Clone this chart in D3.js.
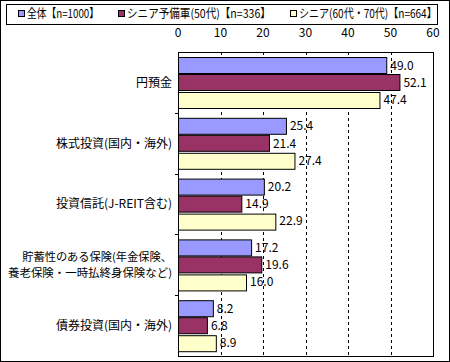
<!DOCTYPE html>
<html>
<head>
<meta charset="utf-8">
<script src="https://cdn.jsdelivr.net/npm/d3@7"></script>
<style>
  body { margin: 0; background: #fff; }
  text { font-family: "Noto Sans CJK JP", "Noto Sans", sans-serif; fill: #000; }
</style>
</head>
<body>
<script>
// Categories and series values.
const categories = [
  "円預金",
  "株式投資(国内・海外)",
  "投資信託(J-REIT含む)",
  "貯蓄性のある保険(年金保険、|養老保険・一時払終身保険など)",
  "債券投資(国内・海外)"
];
const seriesNames = ["全体【n=1000】", "シニア予備軍(50代)【n=336】", "シニア(60代・70代)【n=664】"];
const seriesColors = ["#9999ff", "#993366", "#ffffcc"];
const allValues = [49.0, 25.4, 20.2, 17.2, 8.2];
const preSeniorValues = [52.1, 21.4, 14.9, 19.6, 6.8];
const seniorValues = [47.4, 27.4, 22.9, 16.0, 8.9];
const tickValues = [0, 10, 20, 30, 40, 50, 60];

const width = 450;
const height = 362;
const margin = { top: 52, right: 17, bottom: 6, left: 178 };

const series = [allValues, preSeniorValues, seniorValues];

const svg = d3.select("body").append("svg")
  .attr("width", width)
  .attr("height", height);

// Outer frame.
svg.append("rect")
  .attr("x", 0.5).attr("y", 0.5)
  .attr("width", width - 1).attr("height", height - 1)
  .attr("fill", "#fff").attr("stroke", "#000");

const x = d3.scaleLinear().domain([0, 60]).range([margin.left, width - margin.right]);
const y = d3.scaleBand().domain(categories).range([margin.top, height - margin.bottom]);
const yInner = d3.scaleBand().domain([0, 1, 2]).range([0, y.bandwidth()]).paddingOuter(0.3).paddingInner(0.06);

// Dashed gridlines.
svg.append("g")
  .selectAll("line")
  .data(tickValues.slice(1, -1))
  .join("line")
  .attr("x1", (d) => Math.round(x(d)) + 0.5)
  .attr("x2", (d) => Math.round(x(d)) + 0.5)
  .attr("y1", margin.top)
  .attr("y2", height - margin.bottom)
  .attr("stroke", "#000")
  .attr("stroke-dasharray", "3,3");

// Top axis labels.
svg.append("g")
  .selectAll("text")
  .data(tickValues)
  .join("text")
  .attr("x", (d) => x(d))
  .attr("y", 37)
  .attr("text-anchor", "middle")
  .attr("font-size", 12)
  .text((d) => d);

// Bars.
const groups = svg.append("g")
  .selectAll("g")
  .data(categories)
  .join("g")
  .attr("transform", (d) => `translate(0,${y(d)})`);

groups.each(function (cat, ci) {
  const g = d3.select(this);
  series.forEach((vals, si) => {
    g.append("rect")
      .attr("x", x(0) + 0.5)
      .attr("y", Math.round(yInner(si)) + 0.5)
      .attr("width", x(vals[ci]) - x(0))
      .attr("height", Math.round(yInner.bandwidth()))
      .attr("fill", seriesColors[si])
      .attr("stroke", "#000");
    g.append("text")
      .attr("x", x(vals[ci]) + 4)
      .attr("y", yInner(si) + yInner.bandwidth() / 2)
      .attr("dy", "0.36em")
      .attr("font-size", 12)
      .text(vals[ci].toFixed(1));
  });
});

// Plot border.
svg.append("rect")
  .attr("x", x(0) + 0.5)
  .attr("y", margin.top + 0.5)
  .attr("width", x(60) - x(0))
  .attr("height", height - margin.bottom - margin.top)
  .attr("fill", "none")
  .attr("stroke", "#000");

// Category boundary tick marks.
svg.append("g")
  .selectAll("line")
  .data(categories.slice(1))
  .join("line")
  .attr("x1", x(0) - 3)
  .attr("x2", x(0))
  .attr("y1", (d) => Math.round(y(d)) + 0.5)
  .attr("y2", (d) => Math.round(y(d)) + 0.5)
  .attr("stroke", "#000");

// Category labels, one text per line; long lines squeezed horizontally.
const labelRight = x(0) - 6;
const lineGap = 16;
svg.append("g")
  .selectAll("g")
  .data(categories)
  .join("g")
  .each(function (d) {
    const lines = d.split("|");
    const cy = y(d) + y.bandwidth() / 2;
    lines.forEach((line, i) => {
      const ly = cy + (i - (lines.length - 1) / 2) * lineGap;
      const t = d3.select(this).append("text")
        .attr("text-anchor", "end")
        .attr("font-size", lines.length > 1 ? 11 : 12)
        .attr("dy", "0.36em")
        .text(line);
      const w = t.node().getComputedTextLength();
      const target = lines.length > 1 ? (i === 0 ? 150 : 164) : w;
      const k = target / w;
      t.attr("transform", `translate(${labelRight},${ly}) scale(${k},1)`);
    });
  });

// Legend.
svg.append("rect")
  .attr("x", 6.5).attr("y", 4.5)
  .attr("width", 431).attr("height", 20)
  .attr("fill", "#fff").attr("stroke", "#000");

const legendX = [18, 118, 290];
const legendTextWidth = [72, 144, 138];
const legend = svg.append("g")
  .selectAll("g")
  .data(seriesNames)
  .join("g")
  .attr("transform", (d, i) => `translate(${legendX[i]},14)`);

legend.append("rect")
  .attr("x", 0.5).attr("y", -3.5)
  .attr("width", 6).attr("height", 6)
  .attr("fill", (d, i) => seriesColors[i])
  .attr("stroke", "#000");

legend.append("text")
  .attr("dy", "0.36em")
  .attr("font-size", 12)
  .text((d) => d)
  .attr("transform", function (d, i) {
    const w = this.getComputedTextLength();
    return `translate(9,0) scale(${legendTextWidth[i] / w},1)`;
  });
</script>
</body>
</html>
